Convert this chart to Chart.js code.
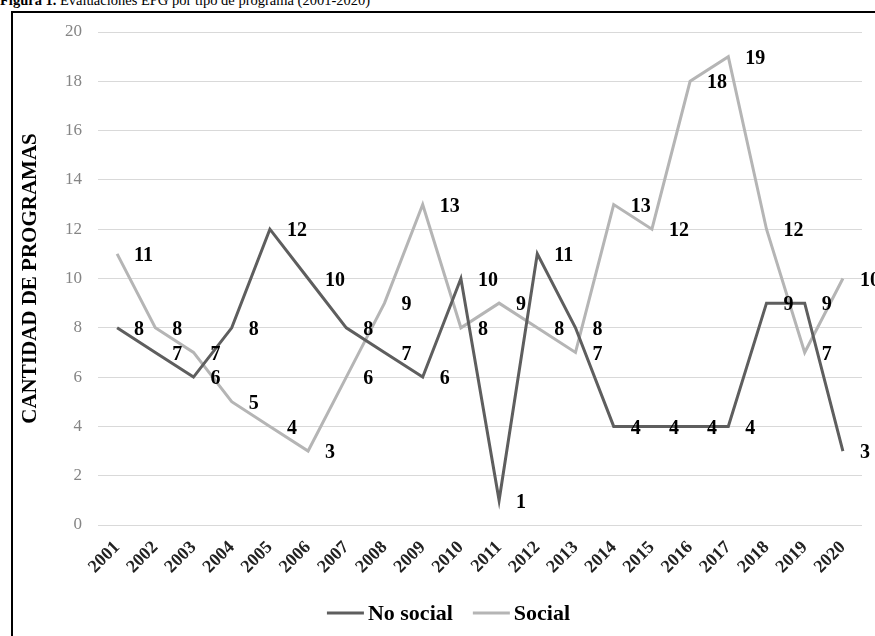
<!DOCTYPE html>
<html>
<head>
<meta charset="utf-8">
<script src="https://cdn.jsdelivr.net/npm/chart.js@4"></script>
<style>
  html, body { margin: 0; padding: 0; background: #fff; overflow: hidden; }
  #wrap { position: relative; width: 875px; height: 636px; overflow: hidden; }
  #caption {
    position: absolute; left: 0; top: -7px; white-space: nowrap;
    font-family: "Liberation Serif", serif; font-size: 14.5px; line-height: 1; color: #000;
  }
  #frame {
    position: absolute; left: 11px; top: 11px; width: 900px; height: 700px;
    border: 2px solid #000; box-sizing: border-box;
  }
  #chart { position: absolute; left: 0; top: 0; }
</style>
</head>
<body>
<div id="wrap">
  <div id="caption"><b>Figura 1.</b> Evaluaciones EPG por tipo de programa (2001-2020)</div>
  <div id="frame"></div>
  <canvas id="chart" width="875" height="636"></canvas>
</div>
<script>
// ---- data ----
const years = ['2001', '2002', '2003', '2004', '2005', '2006', '2007', '2008', '2009', '2010',
               '2011', '2012', '2013', '2014', '2015', '2016', '2017', '2018', '2019', '2020'];
const noSocial = [8, 7, 6, 8, 12, 10, 8, 7, 6, 10, 1, 11, 8, 4, 4, 4, 4, 9, 9, 3];
const social = [11, 8, 7, 5, 4, 3, 6, 9, 13, 8, 9, 8, 7, 13, 12, 18, 19, 12, 7, 10];
const yTicks = [0, 2, 4, 6, 8, 10, 12, 14, 16, 18, 20];

const serif = '"Liberation Serif", "Times New Roman", serif';

// point value labels, placed to the right of each point (like Excel "right")
const valueLabels = {
  id: 'valueLabels',
  afterDatasetsDraw(chart) {
    const ctx = chart.ctx;
    ctx.save();
    ctx.font = 'bold 20px ' + serif;
    ctx.fillStyle = '#000';
    ctx.textAlign = 'left';
    ctx.textBaseline = 'middle';
    chart.data.datasets.forEach((ds, i) => {
      const meta = chart.getDatasetMeta(i);
      meta.data.forEach((pt, j) => {
        ctx.fillText(String(ds.data[j]), pt.x + 17, pt.y + 2);
      });
    });
    ctx.restore();
  }
};

// Excel-style legend: short line, small gap, bold label; row centred a bit left of the plot
const lineLegend = {
  id: 'lineLegend',
  afterDraw(chart) {
    const ctx = chart.ctx;
    const lineLen = 37, gap = 4, itemGap = 20;
    ctx.save();
    ctx.font = 'bold 22px ' + serif;
    const items = chart.data.datasets.map(ds => ({
      ds, w: lineLen + gap + ctx.measureText(ds.label).width
    }));
    const total = items.reduce((s, it) => s + it.w, 0) + itemGap * (items.length - 1);
    let x = chart.width / 2 + 11 - total / 2;
    const y = chart.height - 23;
    items.forEach(it => {
      ctx.strokeStyle = it.ds.borderColor;
      ctx.lineWidth = it.ds.borderWidth;
      ctx.beginPath();
      ctx.moveTo(x, y);
      ctx.lineTo(x + lineLen, y);
      ctx.stroke();
      ctx.fillStyle = '#000';
      ctx.textAlign = 'left';
      ctx.textBaseline = 'middle';
      ctx.fillText(it.ds.label, x + lineLen + gap, y + 1);
      x += it.w + itemGap;
    });
    ctx.restore();
  }
};

new Chart(document.getElementById('chart'), {
  type: 'line',
  data: {
    labels: years,
    datasets: [
      {
        label: 'No social',
        data: noSocial,
        borderColor: '#5e5e5e',
        backgroundColor: '#5e5e5e',
        borderWidth: 3,
        pointRadius: 0,
        tension: 0
      },
      {
        label: 'Social',
        data: social,
        borderColor: '#b5b5b5',
        backgroundColor: '#b5b5b5',
        borderWidth: 3,
        pointRadius: 0,
        tension: 0
      }
    ]
  },
  options: {
    responsive: false,
    animation: false,
    layout: { padding: { left: 14, top: 32, right: 13, bottom: 52 } },
    scales: {
      x: {
        offset: true,
        grid: { display: false, drawTicks: false },
        border: { display: false },
        ticks: {
          autoSkip: false,
          minRotation: 45,
          maxRotation: 45,
          padding: 12,
          color: '#222',
          font: { family: serif, size: 18, weight: 'bold' }
        },
        afterFit(scale) { scale.height = 59; }
      },
      y: {
        min: 0,
        max: 20,
        afterBuildTicks(scale) { scale.ticks = yTicks.map(v => ({ value: v })); },
        grid: { color: '#d9d9d9', lineWidth: 1, drawTicks: false },
        border: { display: false },
        ticks: {
          padding: 16,
          color: '#858585',
          font: { family: serif, size: 17 }
        },
        title: {
          display: true,
          text: 'CANTIDAD DE PROGRAMAS',
          color: '#000',
          padding: { top: 4, bottom: 0 },
          font: { family: serif, size: 21, weight: 'bold' }
        },
        afterFit(scale) { scale.width = 84; }
      }
    },
    plugins: {
      legend: { display: false },
      tooltip: { enabled: false }
    }
  },
  plugins: [valueLabels, lineLegend]
});
</script>
</body>
</html>
